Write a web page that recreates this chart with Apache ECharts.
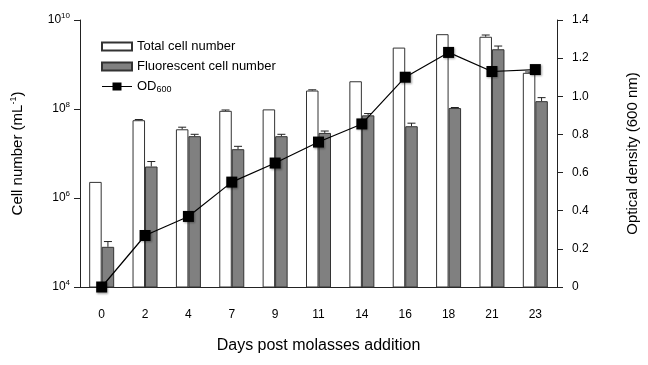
<!DOCTYPE html>
<html>
<head>
<meta charset="utf-8">
<script src="https://cdn.jsdelivr.net/npm/echarts@6/dist/echarts.min.js"></script>
<style>
  html, body { margin: 0; padding: 0; background: #fff; }
  #main { width: 648px; height: 365px; }
</style>
</head>
<body>
<div id="main"></div>
<script>
const days = ['0', '2', '4', '7', '9', '11', '14', '16', '18', '21', '23'];
const totalCells = [2.3e6, 5.6e7, 3.5e7, 9.1e7, 9.8e7, 2.6e8, 4.2e8, 2.4e9, 4.8e9, 4.2e9, 6.5e8];
const totalErrTop = [null, 5.8e7, 3.9e7, 9.5e7, null, 2.7e8, null, null, null, 4.6e9, 6.8e8];
const fluorCells = [8e4, 5.1e6, 2.45e7, 1.25e7, 2.45e7, 2.9e7, 7.2e7, 4.1e7, 1.05e8, 2.2e9, 1.5e8];
const fluorErrTop = [1.05e5, 6.6e6, 2.7e7, 1.45e7, 2.7e7, 3.2e7, 7.9e7, 4.8e7, 1.08e8, 2.6e9, 1.8e8];
const od600 = [0, 0.27, 0.37, 0.55, 0.65, 0.76, 0.855, 1.10, 1.23, 1.13, 1.14];
const odTicks = [0, 0.2, 0.4, 0.6, 0.8, 1.0, 1.2, 1.4];

const font = 'Liberation Sans, Arial, sans-serif';
const barW = 12.5;

const chart = echarts.init(document.getElementById('main'));

// upward-only error bars, shifted onto the left (white) or right (grey) bar
function errorBars(tops, vals, shift) {
  return {
    type: 'custom',
    yAxisIndex: 0,
    z: 3,
    silent: true,
    data: tops.map((t, i) => [i, vals[i], t]),
    renderItem: function (params, api) {
      if (api.value(2) == null || isNaN(api.value(2))) return null;
      const base = api.coord([api.value(0), api.value(1)]);
      const top = api.coord([api.value(0), api.value(2)]);
      const x = base[0] + shift;
      const style = { stroke: '#222', lineWidth: 1 };
      return {
        type: 'group',
        children: [
          { type: 'line', shape: { x1: x, y1: base[1], x2: x, y2: top[1] }, style: style },
          { type: 'line', shape: { x1: x - 4, y1: top[1], x2: x + 4, y2: top[1] }, style: style }
        ]
      };
    }
  };
}

const option = {
  animation: false,
  textStyle: { fontFamily: font },
  grid: { left: 80, right: 90, top: 20, bottom: 78 },
  legend: {
    data: [
      { name: 'Total cell number', icon: 'rect' },
      { name: 'Fluorescent cell number', icon: 'rect' },
      { name: 'OD600', icon: 'path://M0,3.6H30V4.4H0Z M10.5,0H19.5V8H10.5Z' }
    ],
    orient: 'vertical',
    left: 96,
    top: 35,
    itemWidth: 30,
    itemHeight: 8,
    itemGap: 7,
    textStyle: {
      fontSize: 13,
      color: '#000',
      fontFamily: font,
      rich: {
        sub: { fontSize: 9, fontFamily: font, color: '#000', padding: [7, 0, 0, 0] }
      }
    },
    formatter: function (name) {
      return name === 'OD600' ? 'OD{sub|600}' : name;
    }
  },
  xAxis: {
    type: 'category',
    data: days,
    name: 'Days post molasses addition',
    nameLocation: 'middle',
    nameGap: 51,
    nameTextStyle: { fontSize: 16, color: '#000', fontFamily: font },
    axisLine: { lineStyle: { color: '#222', width: 1 } },
    axisTick: { length: 6, lineStyle: { color: '#222' } },
    axisLabel: { fontSize: 12, color: '#000', margin: 22, fontFamily: font }
  },
  yAxis: [
    {
      type: 'log',
      logBase: 100,
      min: 1e4,
      max: 1e10,
      name: 'Cell number (mL{sup|-1})',
      nameLocation: 'middle',
      nameRotate: 90,
      nameGap: 54,
      nameTextStyle: {
        fontSize: 15,
        color: '#000',
        fontFamily: font,
        rich: { sup: { fontSize: 9, fontFamily: font, color: '#000', padding: [0, 0, 8, 0] } }
      },
      splitLine: { show: false },
      axisLine: { show: true, lineStyle: { color: '#222', width: 1 } },
      axisTick: { show: true, length: 6, lineStyle: { color: '#222' } },
      axisLabel: {
        fontSize: 12,
        color: '#000',
        margin: 10,
        fontFamily: font,
        formatter: function (v) {
          return '10{sup|' + Math.round(Math.log10(v)) + '}';
        },
        rich: { sup: { fontSize: 8, fontFamily: font, color: '#000', padding: [0, 0, 8, 0] } }
      }
    },
    {
      type: 'value',
      min: odTicks[0],
      max: odTicks[odTicks.length - 1],
      interval: 0.2,
      name: 'Optical density (600 nm)',
      nameLocation: 'middle',
      nameRotate: 90,
      nameGap: 68,
      nameTextStyle: { fontSize: 15, color: '#000', fontFamily: font },
      splitLine: { show: false },
      axisLine: { show: true, lineStyle: { color: '#222', width: 1 } },
      axisTick: { show: true, length: 6, lineStyle: { color: '#222' } },
      axisLabel: {
        fontSize: 12,
        color: '#000',
        margin: 15,
        fontFamily: font,
        formatter: function (v) { return v === 0 ? '0' : v.toFixed(1); }
      }
    }
  ],
  series: [
    {
      name: 'Total cell number',
      type: 'bar',
      yAxisIndex: 0,
      data: totalCells,
      barWidth: barW,
      barGap: '0%',
      itemStyle: { color: '#fff', borderColor: '#333', borderWidth: 1 }
    },
    {
      name: 'Fluorescent cell number',
      type: 'bar',
      yAxisIndex: 0,
      data: fluorCells,
      barWidth: barW,
      barGap: '0%',
      itemStyle: { color: '#808080', borderColor: '#333', borderWidth: 1 }
    },
    errorBars(totalErrTop, totalCells, -barW / 2),
    errorBars(fluorErrTop, fluorCells, barW / 2),
    {
      name: 'OD600',
      type: 'line',
      yAxisIndex: 1,
      data: od600,
      z: 5,
      symbol: 'rect',
      symbolSize: 11,
      lineStyle: { color: '#000', width: 1.2 },
      itemStyle: {
        color: '#000',
        shadowColor: 'rgba(0,0,0,0.35)',
        shadowBlur: 2,
        shadowOffsetX: 1,
        shadowOffsetY: 1
      }
    }
  ]
};

chart.setOption(option);
</script>
</body>
</html>
